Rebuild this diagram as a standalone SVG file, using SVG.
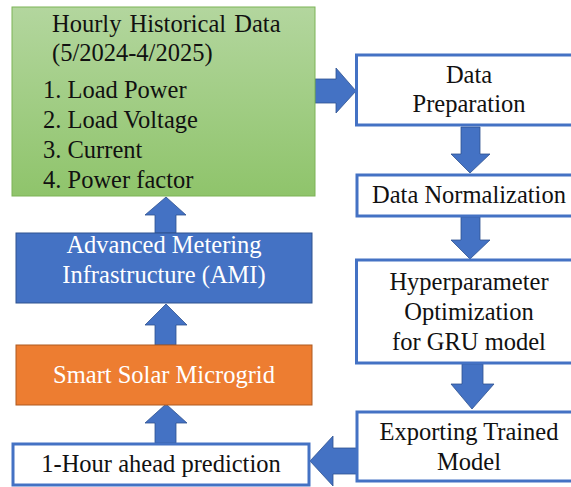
<svg xmlns="http://www.w3.org/2000/svg" width="571" height="487" viewBox="0 0 571 487">
<defs>
<linearGradient id="gg" x1="0" y1="0" x2="0" y2="1">
<stop offset="0" stop-color="#B3D69E"/>
<stop offset="1" stop-color="#8FC46B"/>
</linearGradient>
<style>
text{font-size:24.5px;fill:#111}
.c{text-anchor:middle}
.w{fill:#fff}
.ob{fill:#fff;stroke:#4472C4;stroke-width:3}
.ar{fill:#4472C4;stroke:#2F528F;stroke-width:0.8}
</style>
</defs>
<rect width="571" height="487" fill="#fff"/>
<g id="connectors">
<polygon class="ar" points="315,79 336,79 336,68 356,91 336,113 336,103 315,103"/>
<polygon class="ar" points="461,127 480,127 480,154 490,154 470,173 451,154 461,154"/>
<polygon class="ar" points="461,217 480,217 480,240 490,240 470,259 451,240 461,240"/>
<polygon class="ar" points="462,364 483,364 483,384 494,384 472,409 451,384 462,384"/>
<polygon class="ar" points="357,448 333,448 333,436 310,461 333,486 333,474 357,474"/>
<polygon class="ar" points="155,443 176,443 176,423 187,423 166,404 145,423 155,423"/>
<polygon class="ar" points="155,345 176,345 176,325 187,325 166,304 145,325 155,325"/>
<polygon class="ar" points="155,233 176,233 176,215 186,215 166,197 145,215 155,215"/>
</g>
<g font-family="Liberation Serif, Times New Roman, DejaVu Serif, serif">
<g id="historical">
<rect x="12" y="7" width="303" height="189" fill="url(#gg)" stroke="#7DB356" stroke-width="1"/>
<text x="52" y="32" word-spacing="2">Hourly Historical Data</text>
<text x="52" y="61">(5/2024-4/2025)</text>
<text x="43" y="98">1. Load Power</text>
<text x="43" y="128">2. Load Voltage</text>
<text x="43" y="158">3. Current</text>
<text x="43" y="188">4. Power factor</text>
</g>
<g id="ami">
<rect x="16" y="233" width="296" height="70" fill="#4472C4" stroke="#2F528F" stroke-width="1"/>
<text class="c w" x="164" y="253">Advanced Metering</text>
<text class="c w" x="164" y="283">Infrastructure (AMI)</text>
</g>
<g id="microgrid">
<rect x="16" y="345" width="296" height="60" fill="#ED7D31" stroke="#AE5A21" stroke-width="1"/>
<text class="c w" x="164" y="383">Smart Solar Microgrid</text>
</g>
<g id="prediction">
<rect class="ob" x="13" y="444" width="296" height="41"/>
<text class="c" x="161" y="472">1-Hour ahead prediction</text>
</g>
<g id="preparation">
<rect class="ob" x="356.5" y="55" width="230" height="70"/>
<text class="c" x="469" y="83">Data</text>
<text class="c" x="469" y="112">Preparation</text>
</g>
<g id="normalization">
<rect class="ob" x="357" y="175" width="230" height="41"/>
<text class="c" x="469" y="203">Data Normalization</text>
</g>
<g id="hyperparameter">
<rect class="ob" x="356.5" y="260" width="230" height="103"/>
<text class="c" x="469" y="290">Hyperparameter</text>
<text class="c" x="469" y="320">Optimization</text>
<text class="c" x="469" y="350">for GRU model</text>
</g>
<g id="exporting">
<rect class="ob" x="357" y="412" width="230" height="69"/>
<text class="c" x="469" y="440">Exporting Trained</text>
<text class="c" x="469" y="470">Model</text>
</g>
</g>
</svg>
